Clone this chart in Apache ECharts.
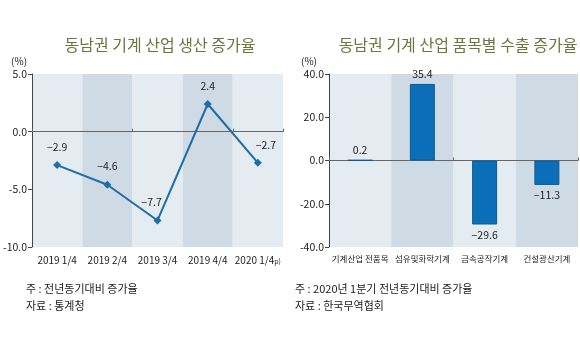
<!DOCTYPE html>
<html>
<head>
<meta charset="utf-8">
<script src="https://cdn.jsdelivr.net/npm/echarts@6/dist/echarts.min.js"></script>
<style>
html,body{margin:0;padding:0;background:#fff;}
#main{width:580px;height:350px;}
</style>
</head>
<body>
<div id="main"></div>
<script>
// 생산 증가율 (분기)
var quarters = ['2019 1/4', '2019 2/4', '2019 3/4', '2019 4/4', '2020 1/4 p)'];
var prodRate = [-2.9, -4.6, -7.7, 2.4, -2.7];
// 품목별 수출 증가율
var items = ['기계산업 전품목', '섬유및화학기계', '금속공작기계', '건설광산기계'];
var exportRate = [0.2, 35.4, -29.6, -11.3];

var FONT = '"Noto Sans CJK KR", "Noto Sans", sans-serif';
var bands = ['#e4ecf2', '#cfdbe4'];
var chart = echarts.init(document.getElementById('main'));

function minus(v){ return String(v).replace('-', '\u2212'); }
function fix1(v){ return v.toFixed(1); }

// 라벨 위치 약간씩 조정
var lineOffsets = [[0,0],[0,0],[-6,0],[0,0],[8,0]];
var lineData = prodRate.map(function(v,i){
	return {value:v, label:{offset:lineOffsets[i]}};
});
var barData = exportRate.map(function(v){
	return {value:v, label:{position: v<0 ? 'bottom' : 'top'}};
});

chart.setOption({
	textStyle:{fontFamily:FONT},
	title:[
		{text:'동남권 기계 산업 생산 증가율', left:155, top:32, textAlign:'center',
		 textStyle:{fontSize:16, fontWeight:'normal', color:'#6a783f', fontFamily:FONT}},
		{text:'동남권 기계 산업 품목별 수출 증가율', left:453, top:32, textAlign:'center',
		 textStyle:{fontSize:16, fontWeight:'normal', color:'#6a783f', fontFamily:FONT}}
	],
	grid:[
		{left:32, right:297, top:74, bottom:103},
		{left:329, right:2, top:74, bottom:103}
	],
	xAxis:[
		{type:'category', gridIndex:0, data:quarters, position:'bottom',
		 axisLine:{show:false, onZero:false}, axisTick:{show:false},
		 splitArea:{show:true, areaStyle:{color:bands}},
		 axisLabel:{color:'#222', fontSize:10, margin:8, interval:0,
			formatter:function(v){
				if(v.indexOf('p)')>0) return v.replace(' p)','') + '{s|p)}';
				return v;
			},
			rich:{s:{fontSize:7, color:'#222', verticalAlign:'bottom'}}}},
		{type:'category', gridIndex:0, data:quarters,
		 axisLine:{show:true, onZero:true, lineStyle:{color:'#666', width:1}},
		 axisTick:{show:true, length:3, lineStyle:{color:'#666'}}, axisLabel:{show:false}},
		{type:'category', gridIndex:1, data:items, position:'bottom',
		 axisLine:{show:false, onZero:false}, axisTick:{show:false},
		 splitArea:{show:true, areaStyle:{color:bands}},
		 axisLabel:{color:'#222', fontSize:8.5, margin:8, interval:0}},
		{type:'category', gridIndex:1, data:items,
		 axisLine:{show:true, onZero:true, lineStyle:{color:'#666', width:1}},
		 axisTick:{show:true, length:3, lineStyle:{color:'#666'}}, axisLabel:{show:false}}
	],
	yAxis:[
		{type:'value', gridIndex:0, min:-10, max:5, interval:5,
		 name:'(%)', nameLocation:'end', nameGap:8,
		 nameTextStyle:{color:'#222', fontSize:10, align:'right', padding:[0,5,0,0]},
		 axisLine:{show:true, lineStyle:{color:'#444'}},
		 axisTick:{show:true, length:4, lineStyle:{color:'#444'}},
		 splitLine:{show:false},
		 axisLabel:{color:'#222', fontSize:10.5, margin:5, formatter:fix1}},
		{type:'value', gridIndex:1, min:-40, max:40, interval:20,
		 name:'(%)', nameLocation:'end', nameGap:8,
		 nameTextStyle:{color:'#222', fontSize:10, align:'right', padding:[0,12,0,0]},
		 axisLine:{show:true, lineStyle:{color:'#444'}},
		 axisTick:{show:true, length:4, lineStyle:{color:'#444'}},
		 splitLine:{show:false},
		 axisLabel:{color:'#222', fontSize:10.5, margin:5, formatter:fix1}}
	],
	series:[
		{type:'line', xAxisIndex:0, yAxisIndex:0, data:lineData,
		 symbol:'diamond', symbolSize:8,
		 lineStyle:{color:'#1f6da6', width:2},
		 itemStyle:{color:'#1f6da6'},
		 label:{show:true, position:'top', distance:9, color:'#222', fontSize:10.5,
			formatter:function(p){ return minus(p.value); }},
		 z:5},
		{type:'bar', xAxisIndex:2, yAxisIndex:1, data:barData, barWidth:25,
		 itemStyle:{color:'#0a6fb8', borderColor:'#0b5a94', borderWidth:1},
		 label:{show:true, color:'#222', fontSize:10.5, distance:5,
			formatter:function(p){ return minus(p.value); }},
		 z:5}
	],
	graphic:[
		{type:'text', left:26, top:283, style:{text:'주 : 전년동기대비 증가율', fill:'#222', font:'11px '+FONT}},
		{type:'text', left:26, top:300, style:{text:'자료 : 통계청', fill:'#222', font:'11px '+FONT}},
		{type:'text', left:295, top:283, style:{text:'주 : 2020년 1분기 전년동기대비 증가율', fill:'#222', font:'11px '+FONT}},
		{type:'text', left:295, top:300, style:{text:'자료 : 한국무역협회', fill:'#222', font:'11px '+FONT}}
	]
});
</script>
</body>
</html>
